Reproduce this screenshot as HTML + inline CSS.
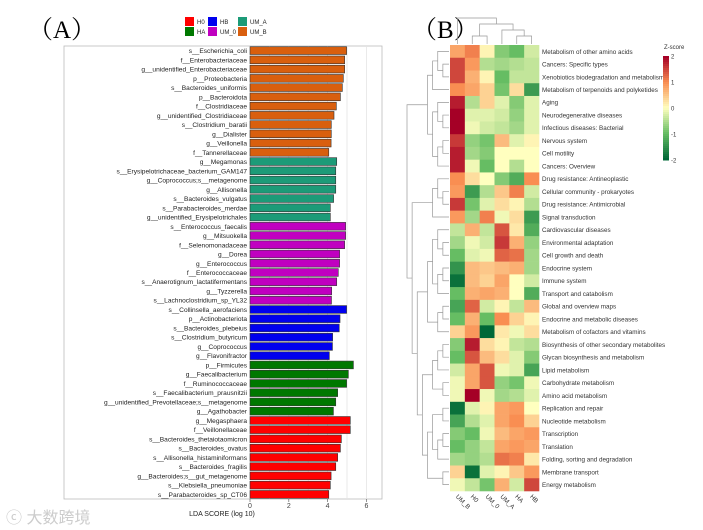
<!DOCTYPE html>
<html><head><meta charset="utf-8">
<style>
html,body{margin:0;padding:0;background:#fff;}
svg{display:block;font-family:"Liberation Sans",sans-serif;}
</style></head>
<body>
<svg id="fig" width="703" height="530" viewBox="0 0 703 530" xmlns="http://www.w3.org/2000/svg">
<text x="28" y="38" font-family="Liberation Serif,'Noto Serif CJK SC',serif" font-size="25">（A）</text>
<text x="412" y="38" font-family="Liberation Serif,'Noto Serif CJK SC',serif" font-size="25">（B）</text>
<g id="lefse"></g>
<g id="heat"></g>
<text x="6" y="523" font-family="'Liberation Sans','Noto Sans CJK SC',sans-serif" font-size="16" fill="#ccc">ⓒ 大数跨境</text>
</svg>
<script>
const NS="http://www.w3.org/2000/svg";
function mk(parent,tag,attrs,text){const e=document.createElementNS(NS,tag);for(const k in attrs)e.setAttribute(k,attrs[k]);if(text!==undefined)e.textContent=text;parent.appendChild(e);return e;}

// ---------- Panel A data ----------
const groups=["H0","HA","HB","UM_A","UM_0","UM_B"];
const groupColors={H0:"#ff0000",HA:"#007800",HB:"#0000ee",UM_A:"#1c9b78",UM_0:"#c000c0",UM_B:"#d95f0e"};
const taxa=["s__Escherichia_coli","f__Enterobacteriaceae","g__unidentified_Enterobacteriaceae","p__Proteobacteria","s__Bacteroides_uniformis","p__Bacteroidota","f__Clostridiaceae","g__unidentified_Clostridiaceae","s__Clostridium_baratii","g__Dialister","g__Veillonella","f__Tannerellaceae",
"g__Megamonas","s__Erysipelotrichaceae_bacterium_GAM147","g__Coprococcus;s__metagenome","g__Allisonella","s__Bacteroides_vulgatus","s__Parabacteroides_merdae","g__unidentified_Erysipelotrichales",
"s__Enterococcus_faecalis","g__Mitsuokella","f__Selenomonadaceae","g__Dorea","g__Enterococcus","f__Enterococcaceae","s__Anaerotignum_lactatifermentans","g__Tyzzerella","s__Lachnoclostridium_sp_YL32",
"s__Collinsella_aerofaciens","p__Actinobacteriota","s__Bacteroides_plebeius","s__Clostridium_butyricum","g__Coprococcus","g__Flavonifractor",
"p__Firmicutes","g__Faecalibacterium","f__Ruminococcaceae","s__Faecalibacterium_prausnitzii","g__unidentified_Prevotellaceae;s__metagenome","g__Agathobacter",
"g__Megasphaera","f__Veillonellaceae","s__Bacteroides_thetaiotaomicron","s__Bacteroides_ovatus","s__Allisonella_histaminiformans","s__Bacteroides_fragilis","g__Bacteroides;s__gut_metagenome","s__Klebsiella_pneumoniae","s__Parabacteroides_sp_CT06"];
const taxaGroup=["UM_B","UM_B","UM_B","UM_B","UM_B","UM_B","UM_B","UM_B","UM_B","UM_B","UM_B","UM_B",
"UM_A","UM_A","UM_A","UM_A","UM_A","UM_A","UM_A",
"UM_0","UM_0","UM_0","UM_0","UM_0","UM_0","UM_0","UM_0","UM_0",
"HB","HB","HB","HB","HB","HB",
"HA","HA","HA","HA","HA","HA",
"H0","H0","H0","H0","H0","H0","H0","H0","H0"];
const ldaScores=[4.98,4.88,4.88,4.81,4.76,4.66,4.45,4.33,4.19,4.19,4.18,4.06,
4.47,4.42,4.42,4.42,4.31,4.14,4.14,
4.93,4.93,4.88,4.62,4.62,4.55,4.47,4.21,4.2,
4.98,4.64,4.6,4.26,4.25,4.09,
5.33,5.07,4.98,4.52,4.42,4.3,
5.17,5.17,4.71,4.66,4.52,4.42,4.18,4.14,4.06];
const ldaTicks=[0,2,4,6];

(function(){
  const g=document.getElementById('lefse');
  const x0=250,pxPerUnit=19.4,top=46,bottom=499,left=64,right=382;
  const xs=v=>x0+v*pxPerUnit;
  const n=taxa.length, step=(bottom-top)/n;
  const ys=i=>top+step*(i+0.5);
  const box=mk(g,'rect',{x:left,y:top,width:right-left,height:bottom-top,fill:'#fff',stroke:'#bbb','stroke-width':0.8});
  
  for(let v=1;v<=6;v++){const l=mk(g,'line',{x1:xs(v),x2:xs(v),y1:top,y2:bottom,stroke:'#e4e4e4','stroke-width':0.8});
    }
  taxa.forEach((t,i)=>{
    const r=mk(g,'rect',{x:xs(0),y:ys(i)-step*0.42,width:xs(ldaScores[i])-xs(0),height:step*0.84,fill:groupColors[taxaGroup[i]],stroke:'#333','stroke-width':0.6});
    
    
    const tx=mk(g,'text',{x:xs(0)-3,y:ys(i)+2.5,'text-anchor':'end','font-size':6.6,fill:'#222'},t);
    
    
  });
  ldaTicks.forEach(v=>{
    const l=mk(g,'line',{x1:xs(v),x2:xs(v),y1:bottom,y2:bottom+3,stroke:'#666','stroke-width':0.7});
    
    const tt=mk(g,'text',{x:xs(v),y:bottom+9,'text-anchor':'middle','font-size':7,fill:'#444'},String(v));
    
  });
  const at=mk(g,'text',{x:222,y:516,'text-anchor':'middle','font-size':7,fill:'#222'},'LDA SCORE (log 10)');
  
  // legend
  const order=[["H0",185,17],["HA",185,27],["HB",208,17],["UM_0",208,27],["UM_A",238,17],["UM_B",238,27]];
  order.forEach(o=>{
    const lg=mk(g,'g',{});
    
    
    mk(lg,'rect',{x:o[1],y:o[2],width:9,height:9,fill:groupColors[o[0]]});
    mk(lg,'text',{x:o[1]+12,y:o[2]+7,'font-size':6,fill:'#222'},o[0]);
  });
})();

// ---------- Panel B data ----------
const samples=["UM_B","H0","UM_0","UM_A","HA","HB"];
const pathways=["Metabolism of other amino acids","Cancers: Specific types","Xenobiotics biodegradation and metabolism","Metabolism of terpenoids and polyketides","Aging","Neurodegenerative diseases","Infectious diseases: Bacterial","Nervous system","Cell motility","Cancers: Overview","Drug resistance: Antineoplastic","Cellular community - prokaryotes","Drug resistance: Antimicrobial","Signal transduction","Cardiovascular diseases","Environmental adaptation","Cell growth and death","Endocrine system","Immune system","Transport and catabolism","Global and overview maps","Endocrine and metabolic diseases","Metabolism of cofactors and vitamins","Biosynthesis of other secondary metabolites","Glycan biosynthesis and metabolism","Lipid metabolism","Carbohydrate metabolism","Amino acid metabolism","Replication and repair","Nucleotide metabolism","Transcription","Translation","Folding, sorting and degradation","Membrane transport","Energy metabolism"];
const zUM_B=[0.8,1.5,1.5,1.0,1.8,2.0,2.0,1.6,1.8,1.8,1.0,0.9,1.6,0.9,-0.4,-0.6,-1.0,-1.5,-1.9,-1.0,-1.3,-1.0,0.4,-0.8,-1.0,-0.3,-0.1,-0.1,-1.9,-1.3,-0.8,-1.0,-0.6,0.4,-0.1];
const zH0=[1.1,0.9,0.7,0.8,-0.5,-0.2,-0.1,-0.7,-0.6,-0.1,0.3,-1.4,-0.9,-0.6,0.7,-0.1,-0.2,0.6,0.6,0.7,1.3,0.7,0.9,1.8,1.4,0.8,0.8,2.0,-0.2,-0.5,-1.0,-0.7,-0.7,-1.9,-0.4];
const zUM_0=[0.1,-0.5,0.1,0.4,0.4,-0.2,-0.3,-0.9,-0.8,-1.0,0.0,-0.5,-0.2,1.1,-0.4,-0.3,-0.1,0.5,0.4,0.8,-0.3,-1.0,-2.0,0.3,0.6,1.4,1.4,-0.1,0.1,-0.2,-0.1,-0.4,-0.5,-0.2,-0.9];
const zUM_A=[-0.8,-0.6,-1.0,-0.9,-0.2,-0.3,-0.4,0.6,0.0,0.0,-0.8,0.5,0.3,-0.1,1.4,1.6,1.3,0.6,0.8,0.7,0.1,1.0,0.2,0.1,0.3,-0.1,-0.7,-0.6,0.8,0.8,0.6,0.8,1.2,0.1,0.7];
const zHA=[-1.0,-0.5,-0.4,0.3,-0.8,-0.7,-0.6,-0.2,0.0,-0.5,-1.2,1.1,0.1,0.3,0.2,0.7,1.2,0.7,0.0,0.0,-0.4,0.4,-0.1,-0.4,-0.2,-0.2,-0.9,-0.5,0.9,1.0,0.8,0.9,1.1,0.5,-0.3];
const zHB=[-0.3,-0.4,-0.4,-1.4,-0.2,-0.2,-0.2,0.1,0.0,0.0,1.0,-0.3,-0.5,-1.4,-1.2,-0.7,-0.6,-0.6,-0.3,-1.2,0.6,0.1,0.3,-0.5,-0.8,-1.3,-0.1,-0.2,0.0,0.4,0.9,0.8,0.2,0.9,1.5];
const zTicks=[2,1,0,-1,-2];
const rowTree=[[[[[1,2],0],3],[[4,[5,6]],[[7,8],9]]],[[[10,[11,12]],13],[[[[14,[15,16]],[[17,18],19]],[[20,21],22]],[[[[23,24],25],[26,27]],[[[28,29],[[30,31],32]],[33,34]]]]]];
const colTree=[0,[[1,2],[3,[4,5]]]];

(function(){
  const g=document.getElementById('heat');
  const hx0=450,hx1=539,hy0=45,hy1=491;
  const cw=(hx1-hx0)/samples.length, rh=(hy1-hy0)/pathways.length;
  const cols=[zUM_B,zH0,zUM_0,zUM_A,zHA,zHB];
  const stops=[[-2,[0,104,55]],[-1,[102,189,99]],[0,[255,255,191]],[1,[249,142,82]],[2,[165,0,38]]];
  function col(z){z=Math.max(-2,Math.min(2,z));for(let i=0;i<stops.length-1;i++){const a=stops[i],b=stops[i+1];if(z<=b[0]){const t=(z-a[0])/(b[0]-a[0]);return 'rgb('+a[1].map((c,k)=>Math.round(c+(b[1][k]-c)*t)).join(',')+')';}}return 'rgb(165,0,38)';}
  pathways.forEach((p,r)=>{
    cols.forEach((arr,c)=>{
      const cell=mk(g,'rect',{x:hx0+c*cw,y:hy0+r*rh,width:cw+0.3,height:rh+0.3,fill:col(arr[r])});
      
      
    });
    const t=mk(g,'text',{x:hx1+3,y:hy0+r*rh+rh/2+2.4,'font-size':6.3,fill:'#333'},p);
    
    
  });
  samples.forEach((s,c)=>{
    const cx=hx0+(c+0.5)*cw;
    const t=mk(g,'text',{x:cx-2,y:hy1+6,'font-size':6.3,fill:'#333',transform:'rotate(45 '+(cx-2)+' '+(hy1+6)+')'},s);
    
    
  });
  // dendrograms
  function height(n){return Array.isArray(n)?1+Math.max(height(n[0]),height(n[1])):0;}
  const dg=mk(g,'g',{stroke:'#999','stroke-width':0.7,fill:'none'});
  
  const rootH=height(rowTree);
  function drawRow(n){ // returns [y, x]
    if(!Array.isArray(n))return [hy0+(n+0.5)*rh,hx0-1];
    const a=drawRow(n[0]),b=drawRow(n[1]);const h=height(n);
    const x=hx0-2-h*(41/rootH);
    mk(dg,'path',{d:'M'+a[1]+' '+a[0]+'H'+x+'V'+b[0]+'H'+b[1]});
    return [(a[0]+b[0])/2,x];
  }
  drawRow(rowTree);
  const tg=mk(g,'g',{stroke:'#999','stroke-width':0.7,fill:'none'});
  
  const cH=height(colTree);
  function drawCol(n){
    if(!Array.isArray(n))return [hx0+(n+0.5)*cw,hy0-1];
    const a=drawCol(n[0]),b=drawCol(n[1]);const h=height(n);
    const y=hy0-3-h*(24/cH);
    mk(tg,'path',{d:'M'+a[0]+' '+a[1]+'V'+y+'H'+b[0]+'V'+b[1]});
    return [(a[0]+b[0])/2,y];
  }
  drawCol(colTree);
  // color bar
  const cb=mk(g,'g',{});
  
  const cbx=663,cby0=56,cby1=160;
  for(let i=0;i<52;i++){const z=2-4*i/51;mk(cb,'rect',{x:cbx,y:cby0+i*(cby1-cby0)/52,width:6,height:(cby1-cby0)/52+0.5,fill:col(z)});}
  mk(cb,'text',{x:664,y:49,'font-size':6,fill:'#333'},'Z-score');
  zTicks.forEach(v=>{const y=cby0+(2-v)/4*(cby1-cby0);mk(cb,'text',{x:cbx+8,y:y+2.5,'font-size':6,fill:'#333'},String(v));});
})();
</script>
</body></html>
